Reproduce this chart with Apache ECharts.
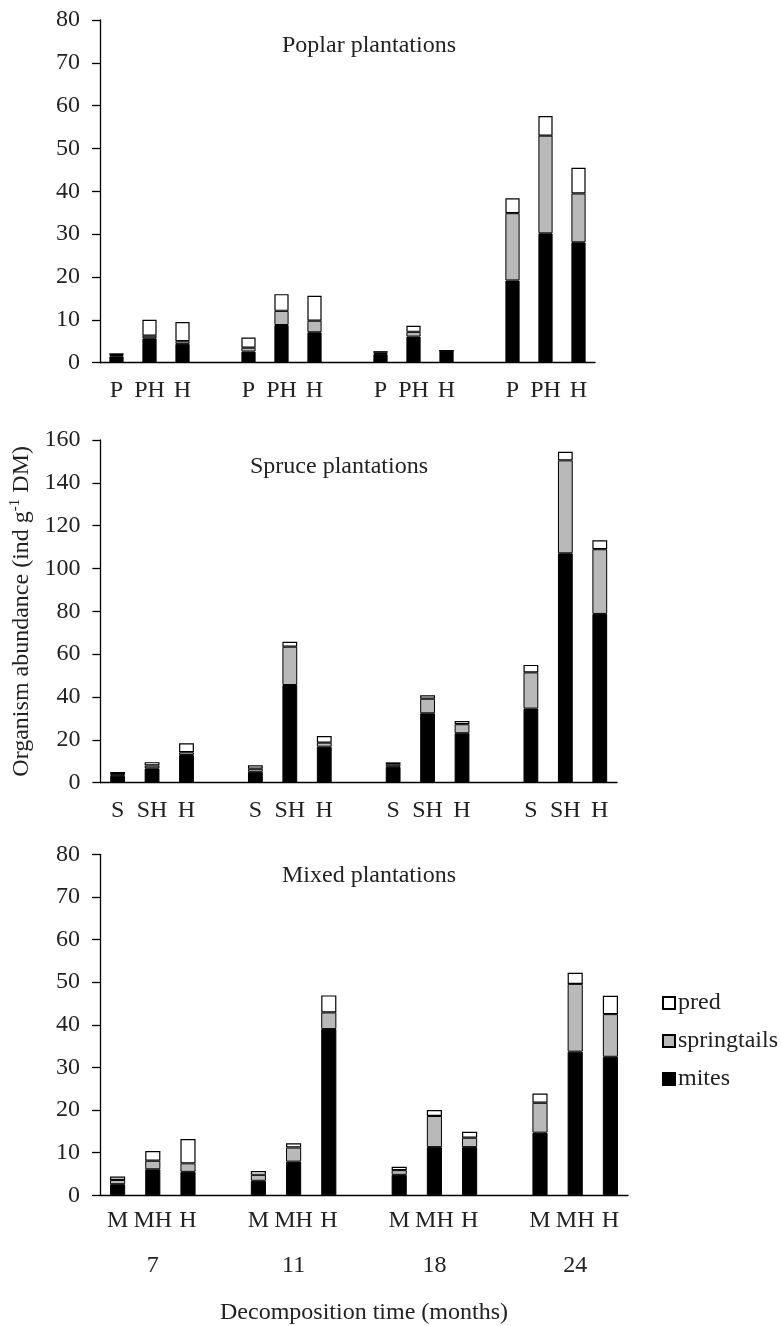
<!DOCTYPE html>
<html>
<head>
<meta charset="utf-8">
<title>Organism abundance by decomposition time</title>
<script src="https://cdn.jsdelivr.net/npm/echarts@6/dist/echarts.min.js"></script>
<style>
  html, body { margin: 0; padding: 0; background: #fff; }
  #chart { width: 781px; height: 1326px; }
</style>
</head>
<body>
<div id="chart"></div>
<script>
// Decomposition times (months) and litter treatments per plantation type
const timePoints = ['7', '11', '18', '24'];
const poplarTreatments = ['P', 'PH', 'H'];
const spruceTreatments = ['S', 'SH', 'H'];
const mixedTreatments = ['M', 'MH', 'H'];

// Abundance (ind g-1 DM), ordered time by time, treatment by treatment
const poplarMites  = [1.5, 5.7, 4.4,  2.6, 8.8, 7.1,  2.0, 6.1, 2.8,  19.2, 30.2, 28.1];
const poplarSpring = [0.3, 0.6, 0.6,  0.9, 3.3, 2.7,  0.3, 1.1, 0.0,  15.7, 22.8, 11.4];
const poplarPred   = [0.4, 3.7, 4.5,  2.4, 3.9, 5.8,  0.4, 1.4, 0.0,  3.5, 4.6, 6.0];

const spruceMites  = [3.2, 6.7, 12.9,  5.1, 45.6, 16.8,  7.4, 32.4, 23.1,  34.6, 107.1, 78.8];
const spruceSpring = [0.8, 1.3, 1.3,   1.4, 17.9, 1.9,   1.0, 6.8, 4.2,    16.9, 43.4, 30.2];
const sprucePred   = [1.0, 1.6, 4.2,   1.6, 2.3, 3.1,    1.1, 1.6, 1.5,    3.5, 4.0, 4.2];

const mixedMites  = [2.6, 6.1, 5.5,  3.4, 7.9, 39.0,  4.8, 11.3, 11.3,  14.7, 33.7, 32.5];
const mixedSpring = [1.0, 2.0, 2.0,  1.4, 3.3, 3.9,   1.1, 7.3, 2.2,    7.0, 15.9, 10.0];
const mixedPred   = [0.8, 2.3, 5.7,  0.9, 1.0, 4.0,   0.8, 1.4, 1.4,    2.2, 2.6, 4.3];

const poplarTicks = [0, 10, 20, 30, 40, 50, 60, 70, 80];
const spruceTicks = [0, 20, 40, 60, 80, 100, 120, 140, 160];
const mixedTicks  = [0, 10, 20, 30, 40, 50, 60, 70, 80];

const FONT = 'Liberation Serif';
const TEXT = '#222';
const FS = 24;

// Category slots: three treatments per time point, with an empty slot between time points
function slotKeys(treatments) {
  const keys = [];
  timePoints.forEach((t, i) => {
    treatments.forEach(tr => keys.push(t + '|' + tr));
    if (i < timePoints.length - 1) keys.push(t + '|');
  });
  return keys;
}
function spread(values) {
  const out = [];
  values.forEach((v, i) => {
    out.push(v);
    if (i % 3 === 2 && i < values.length - 1) out.push('-');
  });
  return out;
}

const grids = [
  { left: 100, top: 20,    width: 495, height: 342.7 },
  { left: 100, top: 440,   width: 517, height: 342.7 },
  { left: 100, top: 854.3, width: 528, height: 341 }
];

const panels = [
  { treatments: poplarTreatments, ticks: poplarTicks, mites: poplarMites, spring: poplarSpring, pred: poplarPred, margin: 16 },
  { treatments: spruceTreatments, ticks: spruceTicks, mites: spruceMites, spring: spruceSpring, pred: sprucePred, margin: 16 },
  { treatments: mixedTreatments,  ticks: mixedTicks,  mites: mixedMites,  spring: mixedSpring,  pred: mixedPred,  margin: 13 }
];

const xAxes = [];
const yAxes = [];
const series = [];

panels.forEach((p, gi) => {
  const keys = slotKeys(p.treatments);
  xAxes.push({
    type: 'category', gridIndex: gi, data: keys,
    axisLine: { lineStyle: { color: '#000', width: 1.3 } },
    axisTick: { show: false },
    axisLabel: {
      interval: 0, margin: p.margin, color: TEXT, fontFamily: FONT, fontSize: FS,
      formatter: v => v.split('|')[1]
    }
  });
  const step = p.ticks[1] - p.ticks[0];
  const y = {
    type: 'value', gridIndex: gi,
    min: p.ticks[0], max: p.ticks[p.ticks.length - 1], interval: step,
    axisLine: { show: true, lineStyle: { color: '#000', width: 1.3 } },
    axisTick: { show: true, length: 8, lineStyle: { color: '#000', width: 1.3 } },
    splitLine: { show: false },
    axisLabel: { margin: 20, color: TEXT, fontFamily: FONT, fontSize: FS }
  };
  if (gi === 1) {
    y.name = '{t|Organism abundance (ind g}{s|-1}{t| DM)}';
    y.nameLocation = 'middle';
    y.nameGap = 63;
    y.nameTextStyle = {
      rich: {
        t: { fontFamily: FONT, fontSize: 24, color: TEXT, lineHeight: 27 },
        s: { fontFamily: FONT, fontSize: 15, color: TEXT, verticalAlign: 'top', lineHeight: 27 }
      }
    };
  }
  yAxes.push(y);

  const common = { type: 'bar', stack: 'g' + gi, xAxisIndex: gi, yAxisIndex: gi, barWidth: '43%' };
  series.push(Object.assign({}, common, {
    name: 'mites', data: spread(p.mites),
    itemStyle: { color: '#000', borderColor: '#000', borderWidth: 1 }
  }));
  series.push(Object.assign({}, common, {
    name: 'springtails', data: spread(p.spring),
    itemStyle: { color: '#b9b9b9', borderColor: '#000', borderWidth: 1 }
  }));
  series.push(Object.assign({}, common, {
    name: 'pred', data: spread(p.pred),
    itemStyle: { color: '#fff', borderColor: '#000', borderWidth: 1.2 }
  }));
});

// Time-point labels and axis title below the bottom panel
xAxes.push({
  type: 'category', gridIndex: 2, position: 'bottom', offset: 44,
  data: slotKeys(mixedTreatments),
  axisLine: { show: false }, axisTick: { show: false },
  axisLabel: {
    interval: 0, margin: 14, color: TEXT, fontFamily: FONT, fontSize: FS,
    formatter: (v, idx) => (idx % 4 === 1 ? v.split('|')[0] : '')
  },
  name: 'Decomposition time (months)', nameLocation: 'middle', nameGap: 61,
  nameTextStyle: { color: TEXT, fontFamily: FONT, fontSize: FS }
});

const titleStyle = { color: TEXT, fontFamily: FONT, fontSize: FS, fontWeight: 'normal' };

const option = {
  backgroundColor: '#fff',
  animation: false,
  title: [
    { text: 'Poplar plantations', left: 364, top: 29, textAlign: 'center', textStyle: titleStyle },
    { text: 'Spruce plantations', left: 334, top: 450, textAlign: 'center', textStyle: titleStyle },
    { text: 'Mixed plantations',  left: 364, top: 859, textAlign: 'center', textStyle: titleStyle }
  ],
  legend: {
    data: ['pred', 'springtails', 'mites'],
    orient: 'vertical', left: 657, top: 986,
    itemWidth: 12, itemHeight: 12, itemGap: 14,
    icon: 'rect',
    textStyle: { color: TEXT, fontFamily: FONT, fontSize: FS, padding: [0, 0, 0, -2] }
  },
  grid: grids,
  xAxis: xAxes,
  yAxis: yAxes,
  series: series
};

const chart = echarts.init(document.getElementById('chart'), null, { renderer: 'canvas' });
chart.setOption(option);
</script>
</body>
</html>
